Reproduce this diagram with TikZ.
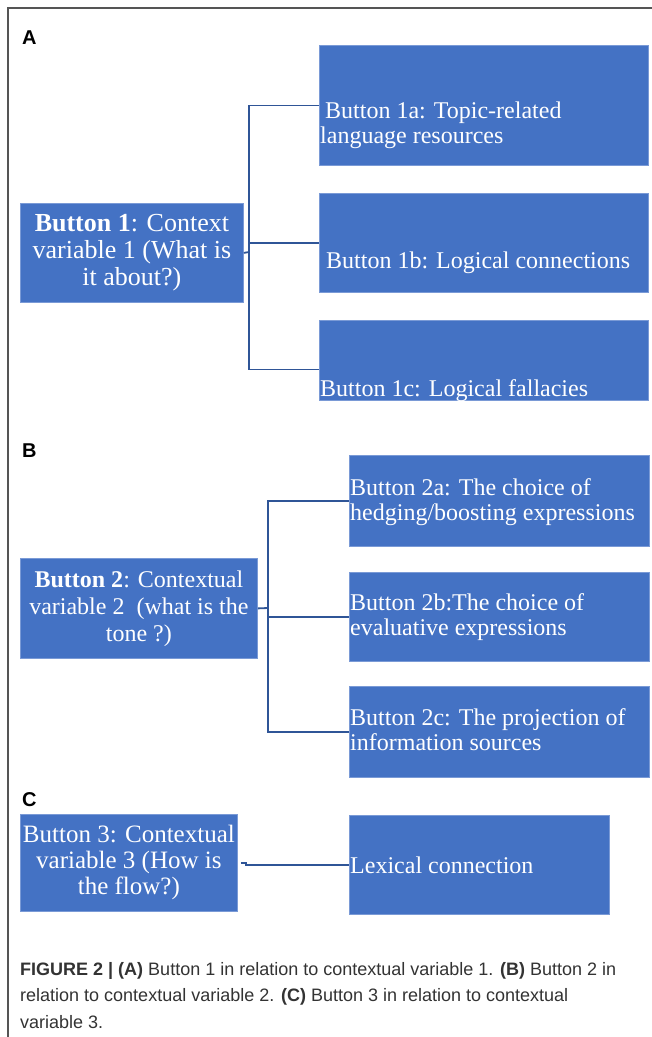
\documentclass[tikz,border=0pt]{standalone}
\usepackage{fontspec}
\setmainfont{Liberation Serif}
\newfontfamily\capfont{Liberation Sans}
\usetikzlibrary{positioning}
\definecolor{btnblue}{HTML}{4472C4}
\definecolor{btnedge}{HTML}{7A9AD6}
\definecolor{linkblue}{HTML}{2F5597}
\definecolor{framegray}{HTML}{555555}
\definecolor{capgray}{HTML}{333333}
\tikzset{
  btn/.style={fill=btnblue, draw=btnedge, line width=0.8pt, inner sep=0pt,
    anchor=north west, text=white, align=center,
    font=\fontsize{24}{27}\selectfont},
  btntext/.style={anchor=north west, inner sep=0pt, align=left, text=white,
    font=\fontsize{24}{25}\selectfont},
  link/.style={draw=linkblue, line width=1.8pt},
  panel/.style={anchor=base west, inner sep=0pt,
    font=\capfont\bfseries\fontsize{20}{20}\selectfont},
}

\begin{document}
\begin{tikzpicture}[x=1pt, y=-1pt]
  \fill[white] (0,0) rectangle (652,1037);
  \useasboundingbox (0,0) rectangle (652,1037);
  % frame
  \draw[framegray, line width=1.5pt] (652,8) -- (8,8) -- (8,1037);

  % panel A
  \node[panel] (pA) at (22,44) {A};
  \node[btn, minimum width=223, minimum height=99,
    font=\fontsize{26}{27}\selectfont] (b1) at (20,203)
    {\textbf{Button 1}: Context\\variable 1 (What is\\it about?)};
  \node[btn, minimum width=329, minimum height=120] (b1a) at (319,45) {};
  \node[btn, minimum width=329, minimum height=99] (b1b) at (319,193) {};
  \node[btn, minimum width=329, minimum height=80] (b1c) at (319,320) {};
  \node[btntext] (t1a) at (320,102) {\hspace*{5pt}Button 1a: Topic-related\\language resources};
  \node[btntext] (t1b) at (326,252) {Button 1b: Logical connections};
  \node[btntext] (t1c) at (320,379) {Button 1c: Logical fallacies};
  \coordinate (jA) at (249,252);
  \draw[link] (b1.east) -- (jA);
  \draw[link] (b1a.west) -| (jA) |- ([yshift=-9pt]b1c.west);
  \draw[link] (jA |- b1b.west) -- (b1b.west);

  % panel B
  \node[panel] (pB) at (22,457) {B};
  \node[btn, minimum width=237, minimum height=100] (b2) at (20,558)
    {\textbf{Button 2}: Contextual\\variable 2\hspace{0.5em}(what is the\\tone ?)};
  \node[btn, minimum width=300, minimum height=91] (b2a) at (349,455) {};
  \node[btn, minimum width=300, minimum height=89] (b2b) at (349,572) {};
  \node[btn, minimum width=300, minimum height=91] (b2c) at (349,686) {};
  \node[btntext] (t2a) at (350,478.5) {Button 2a: The choice of\\hedging/boosting expressions};
  \node[btntext] (t2b) at (350,593.5) {Button 2b:The choice of\\evaluative expressions};
  \node[btntext] (t2c) at (350,708.5) {Button 2c: The projection of\\information sources};
  \coordinate (jB) at (268,608);
  \draw[link] (b2.east) -- (jB);
  \draw[link] (b2a.west) -| (jB) |- (b2c.west);
  \draw[link] (jB |- b2b.west) -- (b2b.west);

  % panel C
  \node[panel] (pC) at (22,806) {C};
  \node[btn, minimum width=217, minimum height=97,
    font=\fontsize{25}{26}\selectfont] (b3) at (20,814)
    {Button 3: Contextual\\variable 3 (How is\\the flow?)};
  \node[btn, minimum width=260, minimum height=99] (lex) at (349,815) {};
  \node[btntext] (tlex) at (350,856.5) {Lexical connection};
  \coordinate (jC) at ([xshift=8pt]b3.east);
  \draw[link] ([xshift=3pt]b3.east) -- (jC) |- (lex.west);

  % caption
  \node[anchor=north west, inner sep=0pt, align=left, text=capgray,
    font=\capfont\fontsize{18}{26.5}\selectfont] (cap) at (20,962)
    {\textbf{FIGURE 2 | (A)} Button 1 in relation to contextual variable 1. \textbf{(B)} Button 2 in\\
     relation to contextual variable 2. \textbf{(C)} Button 3 in relation to contextual\\
     variable 3.};
\end{tikzpicture}
\end{document}
